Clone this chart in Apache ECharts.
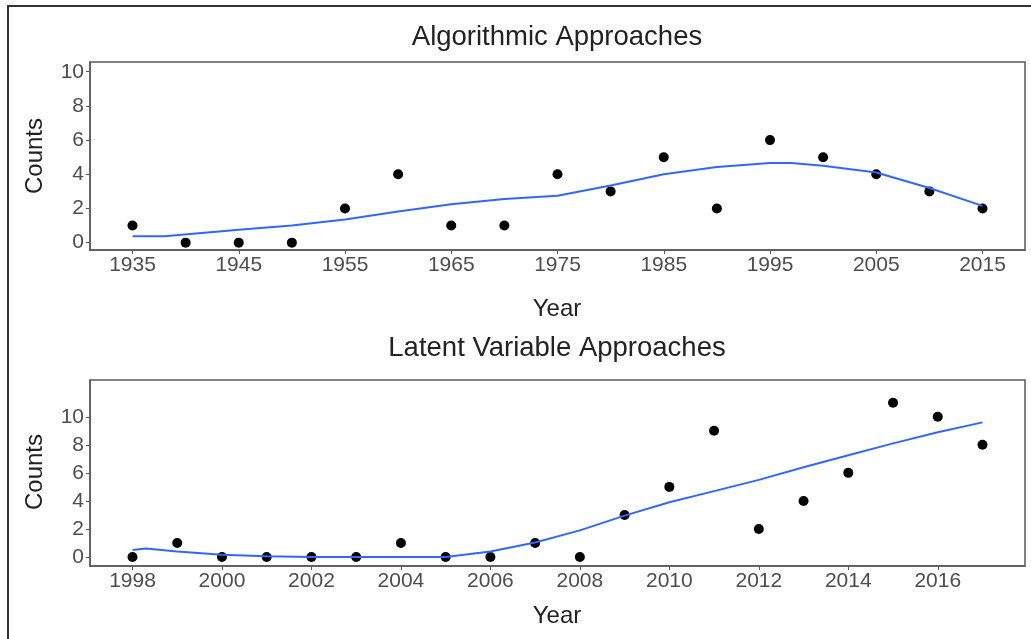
<!DOCTYPE html>
<html>
<head>
<meta charset="utf-8">
<style>
html,body{margin:0;padding:0;background:#fff;}
#chart{width:1031px;height:639px;}
</style>
<script src="https://cdn.jsdelivr.net/npm/echarts@6/dist/echarts.min.js"></script>
</head>
<body>
<div id="chart"></div>
<script>
// ---- Data ----
const algoYears = [1935,1940,1945,1950,1955,1960,1965,1970,1975,1980,1985,1990,1995,2000,2005,2010,2015];
const algoCounts = [1,0,0,0,2,4,1,1,4,3,5,2,6,5,4,3,2];
const algoSmoothYears = [1935,1938,1945,1950,1955,1960,1965,1970,1975,1980,1985,1990,1995,1997,2000,2005,2010,2015];
const algoSmooth = [0.38,0.38,0.75,1.0,1.35,1.82,2.25,2.55,2.75,3.35,4.0,4.43,4.66,4.66,4.5,4.1,3.2,2.15];
const algoXTicks = [1935,1945,1955,1965,1975,1985,1995,2005,2015];
const algoYTicks = [0,2,4,6,8,10];

const latYears = [1998,1999,2000,2001,2002,2003,2004,2005,2006,2007,2008,2009,2010,2011,2012,2013,2014,2015,2016,2017];
const latCounts = [0,1,0,0,0,0,1,0,0,1,0,3,5,9,2,4,6,11,10,8];
const latSmoothYears = [1998,1998.3,1999,2000,2001,2002,2003,2004,2005,2006,2007,2008,2009,2010,2011,2012,2013,2014,2015,2016,2017];
const latSmooth = [0.5,0.6,0.4,0.17,0.05,0,0,0,0,0.4,1.03,1.9,2.95,3.9,4.7,5.5,6.4,7.25,8.1,8.9,9.6];
const latXTicks = [1998,2000,2002,2004,2006,2008,2010,2012,2014,2016];
const latYTicks = [0,2,4,6,8,10];

const titles = ['Algorithmic Approaches','Latent Variable Approaches'];

// ---- Chart ----
const FONT = 'Liberation Sans, Arial, sans-serif';
const tickColor = '#4d4d4d';
const borderColor = '#5a5a5a';

function zip(a,b){ return a.map((v,i)=>[v,b[i]]); }

function xAxis(idx, min, max, ticks){
  return {
    type:'value', gridIndex:idx, min:min, max:max,
    axisLine:{show:true, onZero:false, lineStyle:{color:borderColor, width:1.5}},
    splitLine:{show:false},
    axisTick:{show:true, length:4, lineStyle:{color:borderColor, width:1}, customValues:ticks},
    axisLabel:{show:true, margin:5, color:tickColor, fontSize:21, fontFamily:FONT, customValues:ticks,
      formatter:function(v){ return String(v); }}
  };
}
function yAxis(idx, min, max, ticks){
  return {
    type:'value', gridIndex:idx, min:min, max:max,
    axisLine:{show:true, onZero:false, lineStyle:{color:borderColor, width:1.5}},
    splitLine:{show:false},
    axisTick:{show:true, length:4, lineStyle:{color:borderColor, width:1}, customValues:ticks},
    axisLabel:{show:true, margin:6, color:tickColor, fontSize:21, fontFamily:FONT, customValues:ticks,
      formatter:function(v){ return String(v); }}
  };
}

function txt(text, x, y, size, rot){
  return {
    type:'text', x:x, y:y, rotation:rot||0, z:10,
    style:{text:text, fill:'#222', fontSize:size, fontFamily:FONT, align:'center', verticalAlign:'middle'}
  };
}

const chart = echarts.init(document.getElementById('chart'), null, {renderer:'canvas'});
chart.setOption({
  animation:false,
  backgroundColor:'#fff',
  grid:[
    {left:90, top:62, right:6, height:188, show:true, borderColor:borderColor, borderWidth:1.5, backgroundColor:'#fff'},
    {left:90, top:380, right:6, height:186, show:true, borderColor:borderColor, borderWidth:1.5, backgroundColor:'#fff'}
  ],
  xAxis:[ xAxis(0,1931,2019,algoXTicks), xAxis(1,1997.05,2017.95,latXTicks) ],
  yAxis:[ yAxis(0,-0.43,10.57,algoYTicks), yAxis(1,-0.64,12.62,latYTicks) ],
  series:[
    {type:'scatter', xAxisIndex:0, yAxisIndex:0, data:zip(algoYears,algoCounts), symbolSize:10, itemStyle:{color:'#000', opacity:1}, z:2},
    {type:'line', xAxisIndex:0, yAxisIndex:0, data:zip(algoSmoothYears,algoSmooth), showSymbol:false, smooth:false, lineStyle:{color:'#3366FF', width:2}, z:3},
    {type:'scatter', xAxisIndex:1, yAxisIndex:1, data:zip(latYears,latCounts), symbolSize:10, itemStyle:{color:'#000', opacity:1}, z:2},
    {type:'line', xAxisIndex:1, yAxisIndex:1, data:zip(latSmoothYears,latSmooth), showSymbol:false, smooth:false, lineStyle:{color:'#3366FF', width:2}, z:3}
  ],
  graphic:[
    {type:'rect', shape:{x:8, y:6, width:1040, height:660}, style:{fill:'none', stroke:'#333', lineWidth:2}, z:20, silent:true},
    txt(titles[0], 557, 37.5, 27.5),
    txt(titles[1], 557, 348, 27.5),
    txt('Year', 557, 309, 24),
    txt('Year', 557, 616.5, 24),
    txt('Counts', 35, 156, 24, Math.PI/2),
    txt('Counts', 35, 472, 24, Math.PI/2)
  ]
});
</script>
</body>
</html>
